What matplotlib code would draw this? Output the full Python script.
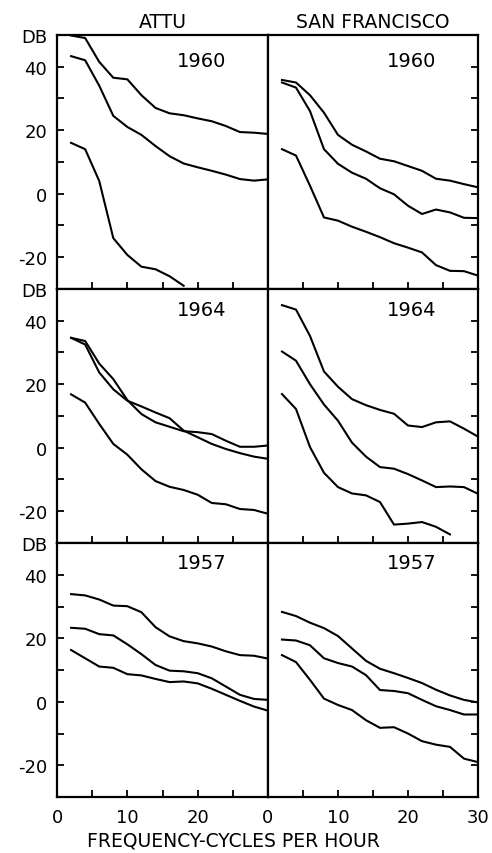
import numpy as np
import matplotlib.pyplot as plt

# spectra sampled every 2 cycles per hour
freq = np.arange(2, 31, 2)

attu_1960_hi = [49.8, 49.0, 41.5, 36.5, 36.0, 31.0, 27.0, 25.3, 24.7, 23.7, 22.8, 21.3, 19.4, 19.2, 18.8]
attu_1960_mid = [43.3, 42.0, 34.0, 24.5, 21.0, 18.5, 15.0, 11.8, 9.5, 8.3, 7.2, 6.0, 4.6, 4.1, 4.5]
attu_1960_lo = [16.0, 14.0, 4.0, -14.0, -19.3, -23.0, -23.8, -26.0, -29.0]

sf_1960_hi = [35.8, 35.0, 31.0, 25.5, 18.5, 15.4, 13.3, 11.0, 10.2, 8.7, 7.2, 4.7, 4.1, 3.0, 2.0]
sf_1960_mid = [35.0, 33.4, 26.0, 14.0, 9.4, 6.6, 4.7, 1.7, -0.2, -3.8, -6.4, -5.0, -5.9, -7.6, -7.7]
sf_1960_lo = [14.0, 12.0, 2.5, -7.5, -8.5, -10.4, -12.0, -13.7, -15.6, -17.0, -18.5, -22.5, -24.3, -24.4, -25.8]

attu_1964_a = [34.6, 33.6, 26.5, 21.6, 15.0, 10.6, 8.0, 6.6, 5.2, 4.9, 4.3, 2.2, 0.3, 0.3, 0.7]
attu_1964_b = [34.6, 32.5, 23.7, 18.4, 14.8, 13.0, 11.1, 9.3, 5.4, 3.3, 1.2, -0.4, -1.7, -2.8, -3.5]
attu_1964_lo = [16.8, 14.2, 7.5, 1.2, -2.2, -6.8, -10.5, -12.3, -13.3, -14.8, -17.4, -17.8, -19.3, -19.6, -20.8]

sf_1964_hi = [44.9, 43.5, 35.2, 24.0, 19.2, 15.3, 13.4, 11.9, 10.7, 7.0, 6.5, 8.0, 8.3, 6.0, 3.5]
sf_1964_mid = [30.3, 27.4, 20.0, 13.6, 8.5, 1.6, -2.8, -6.1, -6.6, -8.3, -10.3, -12.4, -12.2, -12.4, -14.5]
sf_1964_lo = [16.9, 12.2, 0.2, -7.9, -12.4, -14.4, -15.0, -17.1, -24.2, -23.9, -23.4, -24.9, -27.3]

attu_1957_hi = [33.9, 33.5, 32.2, 30.3, 30.1, 28.2, 23.5, 20.6, 19.1, 18.4, 17.4, 15.9, 14.7, 14.5, 13.6]
attu_1957_mid = [23.3, 23.0, 21.3, 20.9, 18.1, 15.0, 11.6, 9.8, 9.6, 9.0, 7.4, 4.8, 2.2, 0.9, 0.6]
attu_1957_lo = [16.3, 13.7, 11.1, 10.7, 8.7, 8.3, 7.2, 6.2, 6.4, 5.8, 4.1, 2.2, 0.3, -1.5, -2.8]

sf_1957_hi = [28.3, 27.0, 24.9, 23.2, 20.7, 16.8, 12.9, 10.4, 9.0, 7.5, 5.9, 3.8, 2.0, 0.6, -0.2]
sf_1957_mid = [19.6, 19.3, 17.8, 13.7, 12.2, 11.1, 8.4, 3.7, 3.4, 2.7, 0.6, -1.4, -2.6, -4.0, -4.0]
sf_1957_lo = [14.7, 12.5, 6.9, 1.0, -1.0, -2.6, -5.8, -8.2, -8.0, -10.0, -12.4, -13.5, -14.2, -17.9, -19.0]

years = ["1960", "1964", "1957"]
year_y = [42, 43.5, 44]
stations = ["ATTU", "SAN FRANCISCO"]

panels = [
    [[attu_1960_hi, attu_1960_mid, attu_1960_lo], [sf_1960_hi, sf_1960_mid, sf_1960_lo]],
    [[attu_1964_a, attu_1964_b, attu_1964_lo], [sf_1964_hi, sf_1964_mid, sf_1964_lo]],
    [[attu_1957_hi, attu_1957_mid, attu_1957_lo], [sf_1957_hi, sf_1957_mid, sf_1957_lo]],
]

yticks = [-20, -10, 0, 10, 20, 30, 40, 50]
ylabels = ["-20", "", "0", "", "20", "", "40", "DB"]
xticks = [0, 5, 10, 15, 20, 25, 30]

fig = plt.figure(figsize=(4.92, 8.54), dpi=100)
plt.rcParams["font.family"] = "DejaVu Sans"

lefts = [0.1159, 0.5447]
widths = [0.4289, 0.4268]
h = 0.2975
bottoms = [0.958 - h, 0.958 - 2 * h, 0.958 - 3 * h]

for row in range(3):
    for col in range(2):
        ax = fig.add_axes([lefts[col], bottoms[row], widths[col], h])
        for s in panels[row][col]:
            ax.plot(freq[:len(s)], s, color="black", lw=1.5)
        ax.set_xlim(0, 30)
        ax.set_ylim(-30, 50)
        for sp in ax.spines.values():
            sp.set_linewidth(1.6)
        ax.set_xticks(xticks)
        if row == 2:
            if col == 0:
                ax.set_xticklabels(["0", "", "10", "", "20", "", ""])
            else:
                ax.set_xticklabels(["0", "", "10", "", "20", "", "30"])
        else:
            ax.set_xticklabels([])
        ax.set_yticks(yticks)
        if col == 0:
            ax.set_yticklabels(ylabels)
            ax.tick_params(axis="y", left=True, right=False)
        else:
            ax.set_yticklabels([])
            ax.tick_params(axis="y", left=False, right=True)
        ax.tick_params(direction="in", length=5, width=1.3, labelsize=13, pad=7)
        ax.tick_params(axis="x", pad=8)
        ax.text(20.5, year_y[row], years[row], fontsize=14, ha="center", va="center")
        if row == 0:
            ax.set_title(stations[col], fontsize=13.5, pad=6)

fig.text(0.475, 0.015, "FREQUENCY-CYCLES PER HOUR", fontsize=13.5, ha="center", va="center")

plt.savefig("out.png", dpi=100)
